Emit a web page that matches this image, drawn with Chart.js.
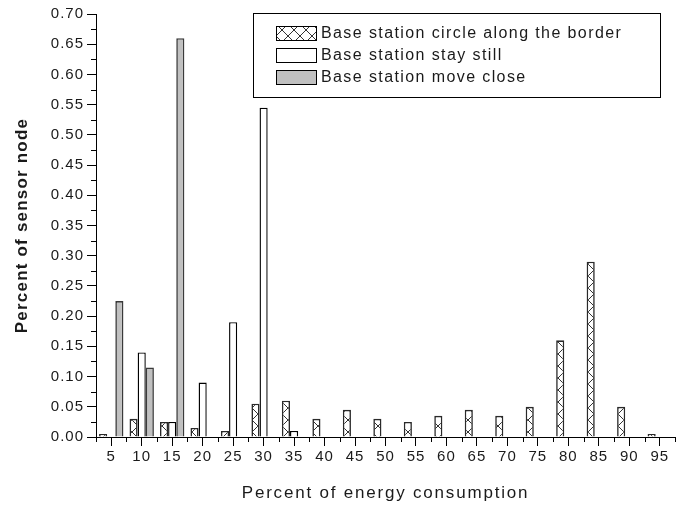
<!DOCTYPE html>
<html>
<head>
<meta charset="utf-8">
<script src="https://cdn.jsdelivr.net/npm/chart.js@4.4.1/dist/chart.umd.min.js"></script>
<style>
  html, body { margin: 0; padding: 0; background: #fff; }
  canvas { display: block; }
</style>
</head>
<body>
<canvas id="c" width="687" height="506"></canvas>
<script>
// ---- data ----
const categories = ['5','10','15','20','25','30','35','40','45','50','55','60','65','70','75','80','85','90','95'];
const circleAlongBorder = [0.005,0.030,0.025,0.015,0.010,0.055,0.060,0.030,0.045,0.030,0.025,0.035,0.045,0.035,0.050,0.160,0.290,0.050,0.005];
const stayStill = [null,0.140,0.025,0.090,0.190,0.545,0.010,null,null,null,null,null,null,null,null,null,null,null,null];
const moveClose = [0.225,0.115,0.660,null,null,null,null,null,null,null,null,null,null,null,null,null,null,null,null];
const seriesNames = ['Base station circle along the border','Base station stay still','Base station move close'];
const yTickValues = [0,0.05,0.10,0.15,0.20,0.25,0.30,0.35,0.40,0.45,0.50,0.55,0.60,0.65,0.70];
const xTitle = 'Percent of energy consumption';
const yTitle = 'Percent of sensor node';

// ---- hatch pattern ----
function makeHatch() {
  const t = document.createElement('canvas');
  t.width = 12; t.height = 12;
  const g = t.getContext('2d');
  g.fillStyle = '#fff'; g.fillRect(0,0,12,12);
  g.strokeStyle = '#333'; g.lineWidth = 1;
  g.beginPath();
  g.moveTo(0,0); g.lineTo(12,12);
  g.moveTo(12,0); g.lineTo(0,12);
  g.stroke();
  return document.getElementById('c').getContext('2d').createPattern(t, 'repeat');
}
const hatch = makeHatch();

const FONT = "Arial, 'Liberation Sans', sans-serif";
const TXT = '#1a1a1a';

const decorPlugin = {
  id: 'decor',
  beforeDraw(chart) {
    chart.ctx.letterSpacing = '1px';
  },
  afterDraw(chart) {
    const ctx = chart.ctx;
    const xs = chart.scales.x, ys = chart.scales.y;
    const area = chart.chartArea;
    ctx.save();
    ctx.strokeStyle = '#000';
    ctx.lineWidth = 1;
    ctx.beginPath();
    // y minor ticks
    for (let i = 0; i < yTickValues.length - 1; i++) {
      const v = (yTickValues[i] + yTickValues[i+1]) / 2;
      const y = Math.round(ys.getPixelForValue(v)) + 0.5;
      ctx.moveTo(area.left - 5, y); ctx.lineTo(area.left, y);
    }
    // x minor ticks at category boundaries
    const n = categories.length;
    const step = xs.getPixelForValue(1) - xs.getPixelForValue(0);
    for (let i = 0; i <= n; i++) {
      let x;
      if (i === 0) x = xs.getPixelForValue(0) - step / 2;
      else if (i === n) x = xs.getPixelForValue(n-1) + step / 2;
      else x = (xs.getPixelForValue(i-1) + xs.getPixelForValue(i)) / 2;
      x = Math.round(x) + 0.5;
      ctx.moveTo(x, area.bottom); ctx.lineTo(x, area.bottom + 5);
    }
    ctx.stroke();

    // axis titles
    ctx.fillStyle = TXT;
    ctx.textAlign = 'center';
    ctx.textBaseline = 'middle';
    ctx.letterSpacing = '1.8px';
    ctx.font = '17px ' + FONT;
    ctx.fillText(xTitle, (area.left + area.right) / 2, 493);
    ctx.save();
    ctx.translate(22, (area.top + area.bottom) / 2);
    ctx.rotate(-Math.PI / 2);
    ctx.letterSpacing = '1.2px';
    ctx.font = 'bold 17px ' + FONT;
    ctx.fillText(yTitle, 0, 0);
    ctx.restore();

    // legend box
    const bx = 253, by = 13, bw = 407, bh = 84;
    ctx.fillStyle = '#fff';
    ctx.fillRect(bx, by, bw, bh);
    ctx.strokeStyle = '#000';
    ctx.strokeRect(bx + 0.5, by + 0.5, bw, bh);
    const rows = [33, 55, 77];
    chart.data.datasets.forEach((ds, i) => {
      const cy = rows[i];
      ctx.fillStyle = ds.backgroundColor;
      ctx.fillRect(276, cy - 7, 40, 14);
      ctx.strokeStyle = '#000';
      ctx.strokeRect(276.5, cy - 6.5, 40, 14);
      ctx.fillStyle = TXT;
      ctx.textAlign = 'left';
      ctx.letterSpacing = '1.4px';
      ctx.font = '16px ' + FONT;
      ctx.fillText(ds.label, 321, cy + 1);
    });
    ctx.restore();
  }
};

new Chart(document.getElementById('c'), {
  type: 'bar',
  data: {
    labels: categories,
    datasets: [
      { label: seriesNames[0], data: circleAlongBorder, backgroundColor: hatch, borderColor: '#2a2a2a', borderWidth: 1.6 },
      { label: seriesNames[1], data: stayStill, backgroundColor: '#ffffff', borderColor: '#000', borderWidth: 1.4 },
      { label: seriesNames[2], data: moveClose, backgroundColor: '#c0c0c0', borderColor: '#3a3a3a', borderWidth: 1.6 }
    ]
  },
  options: {
    responsive: false,
    animation: false,
    devicePixelRatio: 1,
    layout: { padding: { top: 14, right: 12, left: 0, bottom: 0 } },
    datasets: { bar: { categoryPercentage: 0.8, barPercentage: 1.0 } },
    plugins: { legend: { display: false }, tooltip: { enabled: false } },
    scales: {
      x: {
        offset: true,
        grid: { display: true, drawOnChartArea: false, offset: false, color: '#000', tickLength: 9, lineWidth: 1 },
        border: { display: true, color: '#000', width: 1 },
        ticks: { font: { family: FONT, size: 15 }, color: TXT, padding: 2, maxRotation: 0, autoSkip: false },
        afterFit(s) { s.height = 69; }
      },
      y: {
        min: 0, max: 0.7,
        afterBuildTicks(s) { s.ticks = yTickValues.map(v => ({ value: v })); },
        ticks: { font: { family: FONT, size: 15 }, color: TXT, padding: 3, callback: v => Number(v).toFixed(2) },
        grid: { display: true, drawOnChartArea: false, color: '#000', tickLength: 9, lineWidth: 1 },
        border: { display: true, color: '#000', width: 1 },
        afterFit(s) { s.width = 96; }
      }
    }
  },
  plugins: [decorPlugin]
});
</script>
</body>
</html>
